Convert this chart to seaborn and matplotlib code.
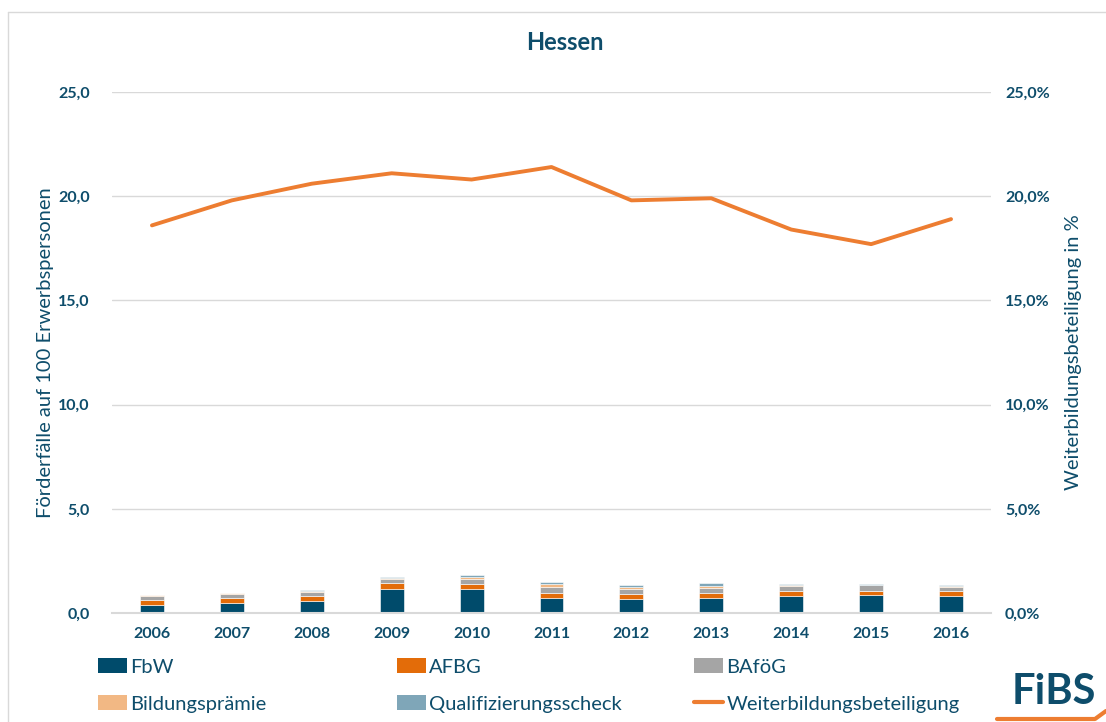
import matplotlib
matplotlib.use("Agg")
import matplotlib.pyplot as plt
import seaborn as sns
import numpy as np
import pandas as pd
from matplotlib.ticker import FuncFormatter
from matplotlib.lines import Line2D
from matplotlib.patches import Patch

years = ["2006", "2007", "2008", "2009", "2010", "2011", "2012", "2013", "2014", "2015", "2016"]
fbw = [0.38, 0.48, 0.58, 1.14, 1.14, 0.72, 0.66, 0.72, 0.80, 0.85, 0.80]
afbg = [0.24, 0.24, 0.24, 0.29, 0.24, 0.24, 0.24, 0.24, 0.27, 0.22, 0.27]
bafoeg = [0.21, 0.21, 0.21, 0.22, 0.27, 0.27, 0.27, 0.22, 0.22, 0.26, 0.17]
bildungspraemie = [0.02, 0.02, 0.02, 0.02, 0.08, 0.14, 0.08, 0.10, 0.06, 0.02, 0.06]
qualischeck = [0.02, 0.02, 0.06, 0.06, 0.08, 0.14, 0.11, 0.14, 0.06, 0.02, 0.02]
weiterbildung = [18.6, 19.8, 20.6, 21.1, 20.8, 21.4, 19.8, 19.9, 18.4, 17.7, 18.9]

series_names = ["FbW", "AFBG", "BAföG", "Bildungsprämie", "Qualifizierungsscheck"]
series_vals = [fbw, afbg, bafoeg, bildungspraemie, qualischeck]
colors = ["#004b6b", "#e36c09", "#a5a5a5", "#f2b884", "#7fa6b8"]
line_color = "#ed7d31"
text_color = "#0e4d6b"

sns.set_theme(style="white")
plt.rcParams["font.family"] = ["Lato", "DejaVu Sans"]

fig = plt.figure(figsize=(11.06, 7.22), dpi=100)
ax = fig.add_axes([112/1106, 1 - 613/722, 879/1106, 521/722])

df = pd.DataFrame({"Jahr": years})
bottom = np.zeros(len(years))
for name, vals, c in zip(series_names, series_vals, colors):
    df[name] = vals
    sns.barplot(data=df, x="Jahr", y=name, color=c, bottom=bottom, width=0.3,
                ax=ax, edgecolor="white", linewidth=0.4, saturation=1)
    bottom = bottom + np.array(vals)

ax.set_ylim(0, 25)
ax.set_xlim(-0.5, len(years) - 0.5)
ax.set_yticks(np.arange(0, 25.1, 5))
ax.yaxis.set_major_formatter(FuncFormatter(lambda v, p: f"{v:.1f}".replace(".", ",")))
ax.grid(axis="y", color="#d9d9d9", linewidth=1)
ax.set_axisbelow(True)
for s in ["top", "right", "left"]:
    ax.spines[s].set_visible(False)
ax.spines["bottom"].set_color("#d9d9d9")
ax.spines["bottom"].set_linewidth(1.5)
ax.tick_params(axis="y", length=0, pad=16, labelsize=11.5, labelcolor=text_color)
ax.tick_params(axis="x", length=0, pad=10, labelsize=11.5, labelcolor=text_color)
for lab in ax.get_xticklabels() + ax.get_yticklabels():
    lab.set_fontweight("bold")
ax.set_xlabel("")
ax.set_ylabel("Förderfälle auf 100 Erwerbspersonen", fontsize=14.5, color=text_color, labelpad=3)

ax2 = ax.twinx()
sns.lineplot(x=np.arange(len(years)), y=weiterbildung, color=line_color, linewidth=2.8, ax=ax2)
ax2.set_ylim(0, 25)
ax2.set_yticks(np.arange(0, 25.1, 5))
ax2.yaxis.set_major_formatter(FuncFormatter(lambda v, p: f"{v:.1f}".replace(".", ",") + "%"))
for s in ["top", "right", "left", "bottom"]:
    ax2.spines[s].set_visible(False)
ax2.tick_params(axis="y", length=0, pad=10, labelsize=11.5, labelcolor=text_color)
for lab in ax2.get_yticklabels():
    lab.set_fontweight("bold")
ax2.set_ylabel("Weiterbildungsbeteiligung in %", fontsize=14.5, color=text_color, labelpad=11)
ax2.grid(False)

fig.text(565/1106, 1 - 42/722, "Hessen", ha="center", va="center", fontsize=17,
         fontweight="bold", color=text_color)

handles = [Patch(facecolor=c, edgecolor="none") for c in colors]
handles.append(Line2D([0], [0], color=line_color, linewidth=3))
labels = series_names + ["Weiterbildungsbeteiligung"]
groups = [([handles[0], handles[3]], [labels[0], labels[3]], 98),
          ([handles[1], handles[4]], [labels[1], labels[4]], 397),
          ([handles[2], handles[5]], [labels[2], labels[5]], 694)]
for h, l, xpx in groups:
    fig.legend(h, l, loc="upper left", bbox_to_anchor=(xpx/1106, 1 - 658/722),
               frameon=False, fontsize=14.5, labelcolor=text_color, handlelength=1.45,
               handleheight=0.8, handletextpad=0.15, labelspacing=0.95,
               borderaxespad=0, borderpad=0)

fig.text(1054/1106, 1 - 692/722, "FiBS", ha="center", va="center", fontsize=30,
         fontweight="bold", color=text_color)
fig.add_artist(Line2D([997/1106, 1095/1106, 1.0], [1 - 719/722, 1 - 719/722, 1 - 711/722],
                      color=line_color, linewidth=3, transform=fig.transFigure))
fig.add_artist(Line2D([8/1106, 8/1106], [0, 1 - 12/722], color="#d9d9d9",
                      linewidth=1, transform=fig.transFigure))
fig.add_artist(Line2D([8/1106, 1.0], [1 - 12/722, 1 - 12/722], color="#d9d9d9",
                      linewidth=1, transform=fig.transFigure))

fig.savefig("out.png", dpi=100)
